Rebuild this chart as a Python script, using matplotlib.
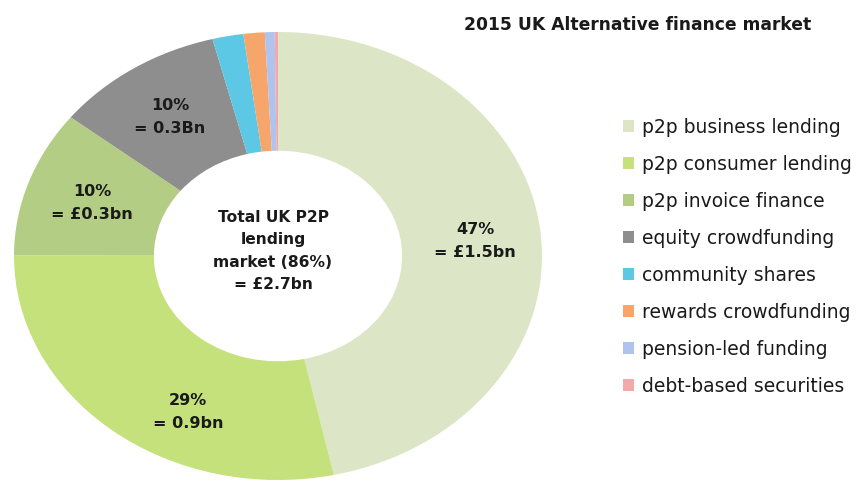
import matplotlib.pyplot as plt

# data
labels = ['p2p business lending', 'p2p consumer lending', 'p2p invoice finance',
          'equity crowdfunding', 'community shares', 'rewards crowdfunding',
          'pension-led funding', 'debt-based securities']
shares = [46.7, 28.5, 10.6, 10.4, 1.9, 1.3, 0.6, 0.2]
colors = ['#DDE5C7', '#C5E17C', '#B3CE84', '#8E8E8E', '#5DC8E6',
          '#F7A66B', '#AFC3EE', '#F2A9AA']
slice_text = ['47%\n= £1.5bn', '29%\n= 0.9bn', '10%\n= £0.3bn', '10%\n= 0.3Bn']
center_text = 'Total UK P2P\nlending\nmarket (86%)\n= £2.7bn'
title = '2015 UK Alternative finance market'

plt.rcParams['font.family'] = ['DejaVu Sans']

W, H = 867, 483
fig = plt.figure(figsize=(W / 100, H / 100), dpi=100)

# donut is stretched horizontally in the reference
cx, cy, rx, ry = 278, 256, 264, 224
ax = fig.add_axes([(cx - rx) / W, (H - cy - ry) / H, 2 * rx / W, 2 * ry / H])
hole = 0.47
wedges, _ = ax.pie(shares, colors=colors, startangle=90, counterclock=False,
                   wedgeprops=dict(width=1 - hole, edgecolor='none'))
ax.set_aspect('auto')
ax.set_xlim(-1, 1)
ax.set_ylim(-1, 1)

# label positions in pixel coords of the reference -> data coords
label_px = [(475, 241), (188, 412), (92, 203), (170, 117)]
for txt, (px, py) in zip(slice_text, label_px):
    ax.text((px - cx) / rx, (cy - py) / ry, txt, ha='center', va='center',
            fontsize=11.5, fontweight='bold', color='#1a1a1a', linespacing=1.7)

ax.text((273 - cx) / rx, (cy - 251) / ry, center_text, ha='center', va='center',
        fontsize=11.2, fontweight='bold', color='#1a1a1a', linespacing=1.6)

fig.text(637.5 / W, 1 - 25 / H, title, ha='center', va='center',
         fontsize=12.3, fontweight='bold', color='#1a1a1a')

fig.legend(wedges, labels, loc='upper left', bbox_to_anchor=(623 / W, 1 - 118 / H),
           frameon=False, fontsize=13.5, handlelength=0.6, handleheight=0.6,
           handletextpad=0.4, labelspacing=0.96, borderaxespad=0, borderpad=0,
           labelcolor='#1a1a1a')

fig.savefig('out.png', dpi=100, facecolor='white')
